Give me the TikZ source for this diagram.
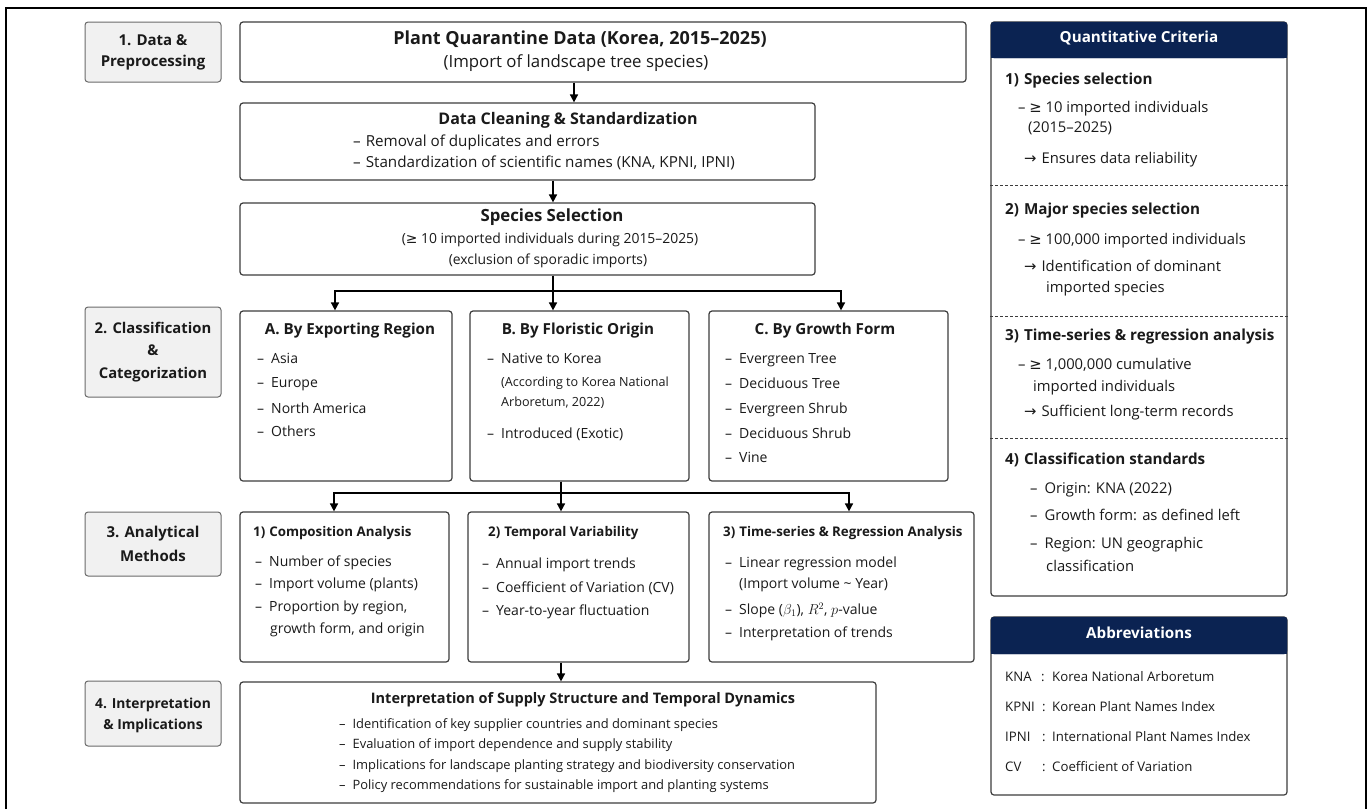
\documentclass[tikz,border=0pt]{standalone}
\usepackage{fontspec}
\setmainfont{Open Sans}
\newfontfamily\symf{DejaVu Sans}
\usetikzlibrary{arrows.meta,fit}
\definecolor{navy}{HTML}{0B2352}
\definecolor{stagefill}{HTML}{F1F1F1}
\definecolor{stageline}{HTML}{6A6A6A}
\definecolor{boxline}{HTML}{3C3C3C}
\definecolor{ink}{HTML}{1A1A1A}
\newcommand{\myfs}[2]{\fontsize{#1}{#2}\selectfont}
\newcommand{\myge}{{\symf ≥}}
\newcommand{\myra}{{\symf →}}
\tikzset{
  stagebox/.style={draw=stageline, fill=stagefill, rounded corners=3pt, line width=1pt, inner sep=0pt},
  mainbox/.style={draw=boxline, fill=white, rounded corners=3pt, line width=1.2pt, inner sep=0pt},
  stagetxt/.style={inner sep=0pt, align=center, text=ink},
  tl/.style={inner sep=0pt, anchor=mid west, text=ink, font=\myfs{14}{16}},
  rt/.style={tl, font=\myfs{14.8}{16}},
  rh/.style={tl, font=\bfseries\myfs{15.2}{17}},
  ah/.style={tl, font=\bfseries\myfs{13.3}{16}},
  abt/.style={tl, font=\myfs{13.2}{15}},
  tc/.style={inner sep=0pt, anchor=mid, text=ink},
  arr/.style={-{Triangle[length=8pt,width=8pt]}, line width=1.6pt, line join=miter},
  sep/.style={line width=0.9pt, dash pattern=on 3pt off 2pt, draw=boxline},
}
\begin{document}
\begin{tikzpicture}[x=1pt,y=-1pt]
\useasboundingbox (0,0) rectangle (1372,809);
\draw[line width=1.3pt] (6,809) -- (6,8) -- (1366,8) -- (1366,809);

% ---- stage labels
\node[stagebox, fit={(85,22) (221,82)}] (s1) {};
\node[stagebox, fit={(85,307) (221,397)}] (s2) {};
\node[stagebox, fit={(85,512) (221,576)}] (s3) {};
\node[stagebox, fit={(85,681) (221,746)}] (s4) {};
\node[stagetxt, font=\bfseries\myfs{15}{21}] at (s1.center) {1. Data \&\\Preprocessing};
\node[stagetxt, font=\bfseries\myfs{14.8}{22.5}] at (s2.center) {2. Classification\\\&\\Categorization};
\node[stagetxt, font=\bfseries\myfs{15}{24}] at (s3.center) {3. Analytical\\Methods};
\node[stagetxt, font=\bfseries\myfs{13.8}{21}] at ([yshift=-2pt]s4.center) {4. Interpretation\\\& Implications};

% ---- main boxes
\node[mainbox, fit={(240,22) (966,82)}] (pq) {};
\node[mainbox, fit={(240,103) (815,180)}] (dc) {};
\node[mainbox, fit={(240,203) (815,275)}] (ss) {};
\node[mainbox, fit={(240,311) (452,481)}] (ba) {};
\node[mainbox, fit={(470,311) (689,481)}] (bb) {};
\node[mainbox, fit={(709,311) (948,481)}] (bcx) {};
\node[mainbox, fit={(240,512) (449,662)}] (m1) {};
\node[mainbox, fit={(468,512) (689,662)}] (m2) {};
\node[mainbox, fit={(709,512) (974,662)}] (m3) {};
\node[mainbox, fit={(240,682) (876,803)}] (m4) {};

% PQ
\node[tc, font=\bfseries\myfs{18}{20}] at (580,42) {Plant Quarantine Data (Korea, 2015–2025)};
\node[tc, font=\myfs{16.8}{18}] at (576,65) {(Import of landscape tree species)};
% DC
\node[tc, font=\bfseries\myfs{16}{18}] at (568,122) {Data Cleaning \& Standardization};
\node[tl, font=\myfs{15.2}{16}] at (353,144) {–\hspace{5pt}Removal of duplicates and errors};
\node[tl, font=\myfs{15.2}{16}] at (353,165) {–\hspace{5pt}Standardization of scientific names (KNA, KPNI, IPNI)};
% SS
\node[tc, font=\bfseries\myfs{16.8}{18}] at (552,219) {Species Selection};
\node[tc, font=\myfs{13.9}{16}] at (550,241) {(\myge\ 10 imported individuals during 2015–2025)};
\node[tc, font=\myfs{13.9}{16}] at (548,262) {(exclusion of sporadic imports)};
% A
\node[tc, font=\bfseries\myfs{15.2}{17}] at (350,332) {A. By Exporting Region};
\node[tl] at (257,361) {–\hspace{7pt}Asia};
\node[tl] at (257,385) {–\hspace{7pt}Europe};
\node[tl] at (257,411) {–\hspace{7pt}North America};
\node[tl] at (257,434) {–\hspace{7pt}Others};
% B
\node[tc, font=\bfseries\myfs{15.2}{17}] at (578,332) {B. By Floristic Origin};
\node[tl] at (487,361) {–\hspace{7pt}Native to Korea};
\node[tl, font=\myfs{12.6}{14}] at (501,384) {(According to Korea National};
\node[tl, font=\myfs{12.6}{14}] at (501,404) {Arboretum, 2022)};
\node[tl] at (487,436) {–\hspace{7pt}Introduced (Exotic)};
% C
\node[tc, font=\bfseries\myfs{15.2}{17}] at (825,332) {C. By Growth Form};
\node[tl] at (725,361) {–\hspace{7pt}Evergreen Tree};
\node[tl] at (725,386) {–\hspace{7pt}Deciduous Tree};
\node[tl] at (725,411) {–\hspace{7pt}Evergreen Shrub};
\node[tl] at (725,436) {–\hspace{7pt}Deciduous Shrub};
\node[tl] at (725,460) {–\hspace{7pt}Vine};
% 1)
\node[ah] at (253,534) {1)\hspace{4pt}Composition Analysis};
\node[tl] at (255,564) {–\hspace{7pt}Number of species};
\node[tl] at (255,586) {–\hspace{7pt}Import volume (plants)};
\node[tl] at (255,609) {–\hspace{7pt}Proportion by region,};
\node[tl] at (270,631) {growth form, and origin};
% 2)
\node[ah] at (488,534) {2)\hspace{4pt}Temporal Variability};
\node[tl] at (482,566) {–\hspace{7pt}Annual import trends};
\node[tl] at (482,590) {–\hspace{7pt}Coefficient of Variation (CV)};
\node[tl] at (482,613) {–\hspace{7pt}Year-to-year fluctuation};
% 3)
\node[ah] at (723,534) {3)\hspace{4pt}Time-series \& Regression Analysis};
\node[tl] at (725,565) {–\hspace{7pt}Linear regression model};
\node[tl] at (739,586) {(Import volume \textasciitilde\ Year)};
\node[tl] at (725,612) {–\hspace{7pt}Slope ($\beta_1$), $R^2$, $p$-value};
\node[tl] at (725,635) {–\hspace{7pt}Interpretation of trends};
% 4
\node[tc, font=\bfseries\myfs{14.5}{17}] at (583,701) {Interpretation of Supply Structure and Temporal Dynamics};
\node[tl, font=\myfs{12.9}{15}] at (339,726) {–\hspace{7pt}Identification of key supplier countries and dominant species};
\node[tl, font=\myfs{12.9}{15}] at (339,746) {–\hspace{7pt}Evaluation of import dependence and supply stability};
\node[tl, font=\myfs{12.9}{15}] at (339,767) {–\hspace{7pt}Implications for landscape planting strategy and biodiversity conservation};
\node[tl, font=\myfs{12.9}{15}] at (339,787) {–\hspace{7pt}Policy recommendations for sustainable import and planting systems};

% ---- connectors
\coordinate (a1) at (574,0);
\coordinate (a2) at (553,0);
\coordinate (j1) at (553,291);
\coordinate (l1) at (335,291);
\coordinate (r1) at (841,291);
\coordinate (j2) at (561,493);
\coordinate (l2) at (334,493);
\coordinate (r2) at (849,493);
\coordinate (a3) at (561,0);
\draw[arr] (pq.south -| a1) -- (dc.north -| a1);
\draw[arr] (dc.south -| a2) -- (ss.north -| a2);
\draw[arr] (ss.south -| j1) -- (bb.north -| j1);
\draw[arr] (ss.south -| j1) -- (j1) -- (l1) -- (ba.north -| l1);
\draw[arr] (j1) -- (r1) -- (bcx.north -| r1);
\draw[arr] (bb.south -| j2) -- (m2.north -| j2);
\draw[arr] (bb.south -| j2) -- (j2) -- (l2) -- (m1.north -| l2);
\draw[arr] (j2) -- (r2) -- (m3.north -| r2);
\draw[arr] (m2.south -| a3) -- (m4.north -| a3);

% ---- right panel
\node[mainbox, fit={(991,22) (1287,596)}] (qc) {};
\node[fill=navy, draw=navy, rounded corners=3pt, inner sep=0pt, fit={(991,22) (1287,58)}] (qch) {};
\fill[navy] (qch.west) rectangle (qch.south east);
\node[tc, text=white, font=\bfseries\myfs{15.2}{17}] at (qch.center) {Quantitative Criteria};
\coordinate (d1) at (0,185);
\coordinate (d2) at (0,316);
\coordinate (d3) at (0,438);
\draw[sep] (qc.west |- d1) -- (qc.east |- d1);
\draw[sep] (qc.west |- d2) -- (qc.east |- d2);
\draw[sep] (qc.west |- d3) -- (qc.east |- d3);

\node[rh] at (1005,82) {1)\hspace{5pt}Species selection};
\node[rt] at (1018,110) {– \myge\ 10 imported individuals};
\node[rt] at (1028,130) {(2015–2025)};
\node[rt] at (1024,161) {\myra\hspace{5pt}Ensures data reliability};
\node[rh] at (1005,212) {2)\hspace{5pt}Major species selection};
\node[rt] at (1018,242) {– \myge\ 100,000 imported individuals};
\node[rt] at (1024,269) {\myra\hspace{5pt}Identification of dominant};
\node[rt] at (1046,290) {imported species};
\node[rh] at (1005,338) {3)\hspace{5pt}Time-series \& regression analysis};
\node[rt] at (1018,367) {– \myge\ 1,000,000 cumulative};
\node[rt] at (1033,389) {imported individuals};
\node[rt] at (1024,414) {\myra\hspace{5pt}Sufficient long-term records};
\node[rh] at (1005,462) {4)\hspace{5pt}Classification standards};
\node[rt] at (1030,491) {–\hspace{7pt}Origin: KNA (2022)};
\node[rt] at (1030,518) {–\hspace{7pt}Growth form: as defined left};
\node[rt] at (1030,546) {–\hspace{7pt}Region: UN geographic};
\node[rt] at (1046,569) {classification};

\node[mainbox, fit={(991,617) (1287,795)}] (ab) {};
\node[fill=navy, draw=navy, rounded corners=3pt, inner sep=0pt, fit={(991,617) (1287,654)}] (abh) {};
\fill[navy] (abh.west) rectangle (abh.south east);
\node[tc, text=white, font=\bfseries\myfs{15.2}{17}] at (abh.center) {Abbreviations};
\node[abt] at (1005,679) {KNA};
\node[abt] at (1041,679) {:};
\node[abt] at (1052,679) {Korea National Arboretum};
\node[abt] at (1005,709) {KPNI};
\node[abt] at (1042,709) {:};
\node[abt] at (1052,709) {Korean Plant Names Index};
\node[abt] at (1005,739) {IPNI};
\node[abt] at (1042,739) {:};
\node[abt] at (1052,739) {International Plant Names Index};
\node[abt] at (1005,769) {CV};
\node[abt] at (1042,769) {:};
\node[abt] at (1052,769) {Coefficient of Variation};
\end{tikzpicture}
\end{document}
